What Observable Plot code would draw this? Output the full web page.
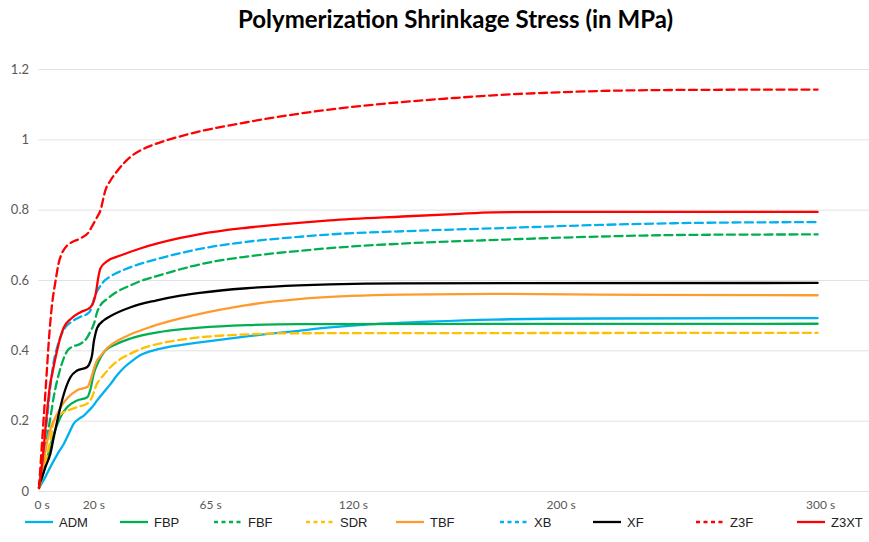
<!DOCTYPE html>
<html><head><meta charset="utf-8">
<script src="https://cdn.jsdelivr.net/npm/d3@7"></script>
<script src="https://cdn.jsdelivr.net/npm/@observablehq/plot@0.6"></script>
<style>
html,body{margin:0;padding:0;background:#fff}
body{width:869px;height:542px;position:relative;overflow:hidden}
#title{position:absolute;top:4px;left:21px;width:869px;text-align:center;font:700 24px Lato,"Open Sans",sans-serif;color:#000}
#chart{position:absolute;top:40px;left:0}
#legend{position:absolute;top:512px;left:0;width:869px;height:20px}
.item{position:absolute;top:0;display:flex;align-items:center;height:20px;font:13px "Liberation Sans",Arial,sans-serif;color:#222}
.item svg{margin-right:6px}
</style></head>
<body>
<div id="title">Polymerization Shrinkage Stress (in MPa)</div>
<div id="chart"></div>
<div id="legend"></div>
<script>
// ---- data: [time in s, stress in MPa] ----
const ADM = [[0,0.01],[2,0.035],[4.4,0.07],[7,0.105],[9.6,0.136],[11.5,0.165],[13.4,0.193],[15.5,0.207],[17.3,0.216],[19.2,0.23],[20.5,0.24],[22.4,0.259],[25,0.283],[27.6,0.306],[30,0.33],[32.7,0.352],[36,0.372],[39.1,0.388],[45,0.403],[50,0.411],[57,0.419],[62,0.424],[80,0.441],[100,0.457],[110,0.465],[125,0.474],[150,0.483],[175,0.489],[216,0.492],[300,0.493]];
const FBP = [[0,0.01],[2,0.06],[4.4,0.13],[6.5,0.18],[8.3,0.212],[10.9,0.24],[14.7,0.259],[18.6,0.268],[19.8,0.29],[21.1,0.335],[23,0.37],[25,0.396],[30.1,0.42],[35.3,0.435],[43,0.449],[54.5,0.461],[62,0.466],[80,0.473],[100,0.476],[300,0.477]];
const FBF = [[0,0.01],[1.5,0.08],[3,0.15],[4.4,0.21],[5.7,0.27],[7.5,0.33],[9.6,0.38],[10.9,0.4],[13,0.412],[16,0.42],[18.6,0.438],[19.8,0.455],[21.1,0.475],[22.4,0.51],[23.7,0.53],[26.3,0.548],[30.1,0.568],[35.8,0.588],[39,0.598],[46,0.614],[54.5,0.632],[62,0.646],[80,0.668],[100,0.684],[112,0.692],[140,0.705],[178,0.716],[216,0.725],[255,0.73],[300,0.731]];
const SDR = [[0,0.01],[1.5,0.05],[3,0.1],[4.5,0.15],[5.7,0.2],[7.5,0.215],[9.6,0.226],[12,0.233],[14.7,0.24],[18.6,0.25],[20,0.262],[22.4,0.307],[25,0.332],[27.6,0.354],[31,0.375],[35.3,0.392],[39.1,0.405],[45,0.418],[57,0.434],[77.6,0.446],[100,0.45],[300,0.451]];
const TBF = [[0,0.01],[1.5,0.07],[3.2,0.145],[5,0.19],[7,0.22],[9,0.247],[10.9,0.265],[14.7,0.288],[18.6,0.297],[19.8,0.315],[21.2,0.35],[22.4,0.373],[23.7,0.385],[26.3,0.408],[30.1,0.428],[35.3,0.447],[43,0.468],[54.5,0.492],[62,0.505],[70,0.517],[80,0.53],[100,0.547],[120,0.556],[140,0.56],[175,0.562],[216,0.56],[300,0.558]];
const XB = [[0,0.01],[1.5,0.1],[3,0.2],[4.4,0.3],[5.7,0.37],[7,0.41],[8.3,0.44],[10,0.465],[12.1,0.48],[16,0.497],[18.6,0.505],[19.8,0.515],[21.1,0.545],[22.4,0.57],[23.7,0.585],[25,0.598],[27.6,0.612],[31,0.625],[35.3,0.638],[45,0.66],[54.5,0.678],[62,0.69],[80,0.71],[100,0.724],[112,0.731],[140,0.74],[178,0.749],[216,0.758],[255,0.764],[300,0.766]];
const XF = [[0,0.02],[0.6,0.03],[2.5,0.07],[4.4,0.108],[5.7,0.155],[7,0.2],[9.6,0.278],[12.1,0.325],[14.7,0.344],[18.6,0.354],[19.8,0.37],[20.5,0.39],[21.1,0.425],[21.8,0.45],[22.4,0.465],[25,0.487],[27.6,0.499],[35.3,0.524],[45,0.543],[54.5,0.557],[62,0.565],[80,0.578],[100,0.586],[112,0.589],[140,0.592],[300,0.593]];
const Z3F = [[0,0.01],[1,0.12],[2,0.23],[3,0.34],[3.8,0.43],[5,0.53],[6.4,0.6],[7.6,0.65],[9,0.68],[10.9,0.7],[13,0.71],[16,0.72],[19.1,0.737],[20.5,0.755],[22,0.775],[23.7,0.8],[25.6,0.857],[27.6,0.885],[30,0.91],[32.6,0.933],[35.5,0.953],[39.1,0.97],[43,0.983],[48,0.996],[54.5,1.01],[62,1.024],[80,1.05],[100.8,1.075],[120,1.093],[139.3,1.107],[160,1.119],[178,1.128],[200,1.135],[216.6,1.139],[250,1.142],[300,1.143]];
const Z3XT = [[0,0.01],[1.5,0.1],[3,0.22],[4.4,0.31],[5.1,0.335],[6.5,0.385],[8.3,0.44],[9.6,0.467],[12.1,0.49],[16,0.51],[19.8,0.524],[20.8,0.535],[21.8,0.56],[23,0.615],[23.7,0.635],[26.3,0.655],[31.4,0.671],[39,0.691],[54.5,0.721],[62,0.732],[80,0.75],[100,0.764],[112,0.771],[140,0.782],[160,0.789],[175,0.794],[200,0.795],[300,0.795]];

const seriesNames = ["ADM","FBP","FBF","SDR","TBF","XB","XF","Z3F","Z3XT"];
const seriesData = [ADM, FBP, FBF, SDR, TBF, XB, XF, Z3F, Z3XT];
const xTicks = [0, 20, 65, 120, 200, 300];
const xTickLabels = ["0 s","20 s","65 s","120 s","200 s","300 s"];
const yTicks = [0, 0.2, 0.4, 0.6, 0.8, 1, 1.2];

// ---- styles ----
const styles = {
  ADM:  {stroke:"#00B0F0", dash:null},
  FBP:  {stroke:"#00B050", dash:null},
  FBF:  {stroke:"#00B050", dash:"8,4.5"},
  SDR:  {stroke:"#FFC000", dash:"8,4.5"},
  TBF:  {stroke:"#FF9A2E", dash:null},
  XB:   {stroke:"#00B0F0", dash:"8,4.5"},
  XF:   {stroke:"#000000", dash:null},
  Z3F:  {stroke:"#FF0000", dash:"8,4.5"},
  Z3XT: {stroke:"#FF0000", dash:null}
};

const rows = seriesNames.flatMap((name, i) => seriesData[i].map(([t, v]) => ({name, t, v})));

const lineMarks = seriesNames.map(name => Plot.line(rows.filter(d => d.name === name), {
  x: "t", y: "v",
  stroke: styles[name].stroke,
  strokeWidth: 2.3,
  strokeDasharray: styles[name].dash,
  curve: "monotone-x"
}));

const chart = Plot.plot({
  width: 869,
  height: 475,
  marginLeft: 38.5,
  marginRight: 0,
  marginTop: 29,
  marginBottom: 24,
  style: {fontFamily: "Lato, 'Open Sans', sans-serif", background: "#fff"},
  x: {domain: [0, 320], label: null},
  y: {domain: [0, 1.2], label: null},
  marks: [
    Plot.gridY(yTicks, {stroke: "#e2e2e2", strokeOpacity: 1, strokeWidth: 1}),
    Plot.axisY(yTicks, {tickSize: 0, tickPadding: 10, tickFormat: d => String(d), fill: "#595959", fontSize: 13, label: null}),
    Plot.axisX(xTicks, {tickSize: 0, tickPadding: 9, tickFormat: d => xTickLabels[xTicks.indexOf(d)], fill: "#595959", fontSize: 12, dx: 3, label: null}),
    ...lineMarks
  ]
});
document.getElementById("chart").appendChild(chart);

// ---- legend ----
const legendX = [25, 120, 214, 306, 396, 500, 593, 696, 797];
const legend = document.getElementById("legend");
seriesNames.forEach((name, i) => {
  const s = styles[name];
  const div = document.createElement("div");
  div.className = "item";
  div.style.left = legendX[i] + "px";
  div.innerHTML = `<svg width="28" height="6"><line x1="0" y1="3" x2="28" y2="3" stroke="${s.stroke}" stroke-width="2.3" ${s.dash ? `stroke-dasharray="4,3.5"` : ""}/></svg><span>${name}</span>`;
  legend.appendChild(div);
});
</script>
</body></html>
